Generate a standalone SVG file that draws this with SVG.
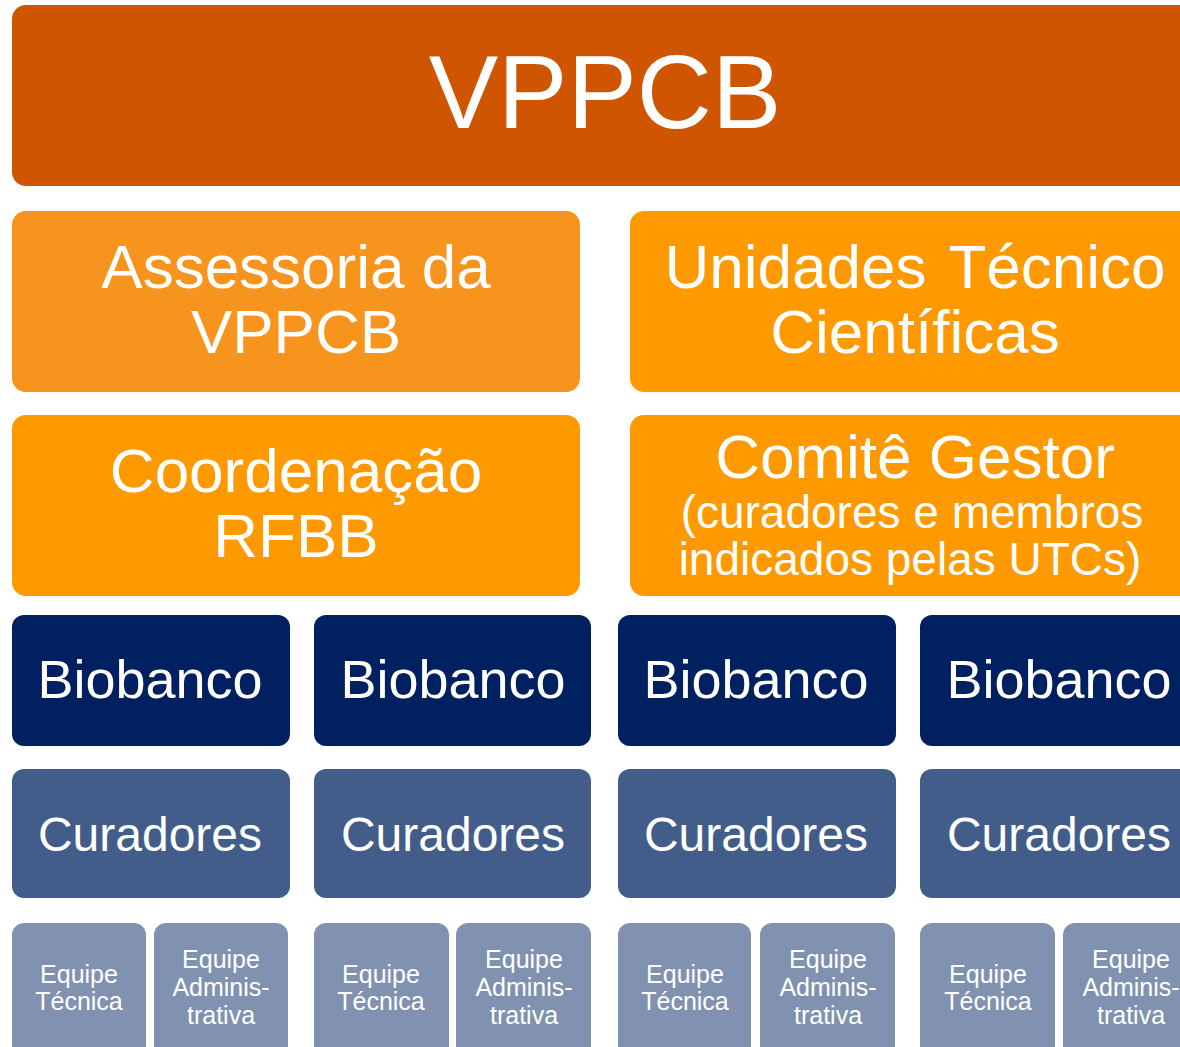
<svg xmlns="http://www.w3.org/2000/svg" width="1180" height="1047" viewBox="0 0 1180 1047">
<style>
text{font-family:"Liberation Sans",Arial,sans-serif;fill:#fff;text-anchor:middle}
.top{fill:#D05500}
.ass{fill:#F7941E}
.org{fill:#FF9900}
.bio{fill:#00205F}
.cur{fill:#425D8A}
.eq{fill:#8192B1}
.t1{font-size:104px}
.t2{font-size:62px}
.t3{font-size:46px}
.tb{font-size:54px}
.tc{font-size:48px}
.te{font-size:25px}
</style>
<rect width="1180" height="1047" fill="#fff"/>
<g id="vppcb"><rect class="top" x="12" y="5" width="1200" height="181" rx="14"/><text class="t1" x="605" y="128">VPPCB</text></g>
<g id="assessoria"><rect class="ass" x="12" y="211" width="568" height="181" rx="14"/><text class="t2" x="296" y="288">Assessoria da</text><text class="t2" x="296" y="353">VPPCB</text></g>
<g id="unidades"><rect class="org" x="630" y="211" width="570" height="181" rx="14"/><text class="t2" x="915" y="288" word-spacing="6">Unidades Técnico</text><text class="t2" x="915" y="353">Científicas</text></g>
<g id="coordenacao"><rect class="org" x="12" y="415" width="568" height="181" rx="14"/><text class="t2" x="296" y="492">Coordenação</text><text class="t2" x="296" y="557">RFBB</text></g>
<g id="comite"><rect class="org" x="630" y="415" width="570" height="181" rx="14"/><text class="t2" x="915" y="478">Comitê Gestor</text><text class="t3" x="912" y="528">(curadores e membros</text><text class="t3" x="910" y="575">indicados pelas UTCs)</text></g>
<g id="biobanco1"><rect class="bio" x="12" y="615" width="278" height="131" rx="12"/><text class="tb" x="150" y="698">Biobanco</text></g>
<g id="biobanco2"><rect class="bio" x="314" y="615" width="277" height="131" rx="12"/><text class="tb" x="453" y="698">Biobanco</text></g>
<g id="biobanco3"><rect class="bio" x="618" y="615" width="278" height="131" rx="12"/><text class="tb" x="756" y="698">Biobanco</text></g>
<g id="biobanco4"><rect class="bio" x="920" y="615" width="278" height="131" rx="12"/><text class="tb" x="1059" y="698">Biobanco</text></g>
<g id="curadores1"><rect class="cur" x="12" y="769" width="278" height="129" rx="12"/><text class="tc" x="150" y="851">Curadores</text></g>
<g id="curadores2"><rect class="cur" x="314" y="769" width="277" height="129" rx="12"/><text class="tc" x="453" y="851">Curadores</text></g>
<g id="curadores3"><rect class="cur" x="618" y="769" width="278" height="129" rx="12"/><text class="tc" x="756" y="851">Curadores</text></g>
<g id="curadores4"><rect class="cur" x="920" y="769" width="278" height="129" rx="12"/><text class="tc" x="1059" y="851">Curadores</text></g>
<g id="tec1"><rect class="eq" x="12" y="923" width="134" height="140" rx="12"/><text class="te" x="79" y="983">Equipe</text><text class="te" x="79" y="1010">Técnica</text></g>
<g id="adm1"><rect class="eq" x="154" y="923" width="134" height="140" rx="12"/><text class="te" x="221" y="968">Equipe</text><text class="te" x="221" y="996">Adminis-</text><text class="te" x="221" y="1024">trativa</text></g>
<g id="tec2"><rect class="eq" x="314" y="923" width="135" height="140" rx="12"/><text class="te" x="381" y="983">Equipe</text><text class="te" x="381" y="1010">Técnica</text></g>
<g id="adm2"><rect class="eq" x="456" y="923" width="135" height="140" rx="12"/><text class="te" x="524" y="968">Equipe</text><text class="te" x="524" y="996">Adminis-</text><text class="te" x="524" y="1024">trativa</text></g>
<g id="tec3"><rect class="eq" x="618" y="923" width="133" height="140" rx="12"/><text class="te" x="685" y="983">Equipe</text><text class="te" x="685" y="1010">Técnica</text></g>
<g id="adm3"><rect class="eq" x="760" y="923" width="135" height="140" rx="12"/><text class="te" x="828" y="968">Equipe</text><text class="te" x="828" y="996">Adminis-</text><text class="te" x="828" y="1024">trativa</text></g>
<g id="tec4"><rect class="eq" x="920" y="923" width="135" height="140" rx="12"/><text class="te" x="988" y="983">Equipe</text><text class="te" x="988" y="1010">Técnica</text></g>
<g id="adm4"><rect class="eq" x="1063" y="923" width="135" height="140" rx="12"/><text class="te" x="1131" y="968">Equipe</text><text class="te" x="1131" y="996">Adminis-</text><text class="te" x="1131" y="1024">trativa</text></g>
<g id="connectors"></g>
</svg>
